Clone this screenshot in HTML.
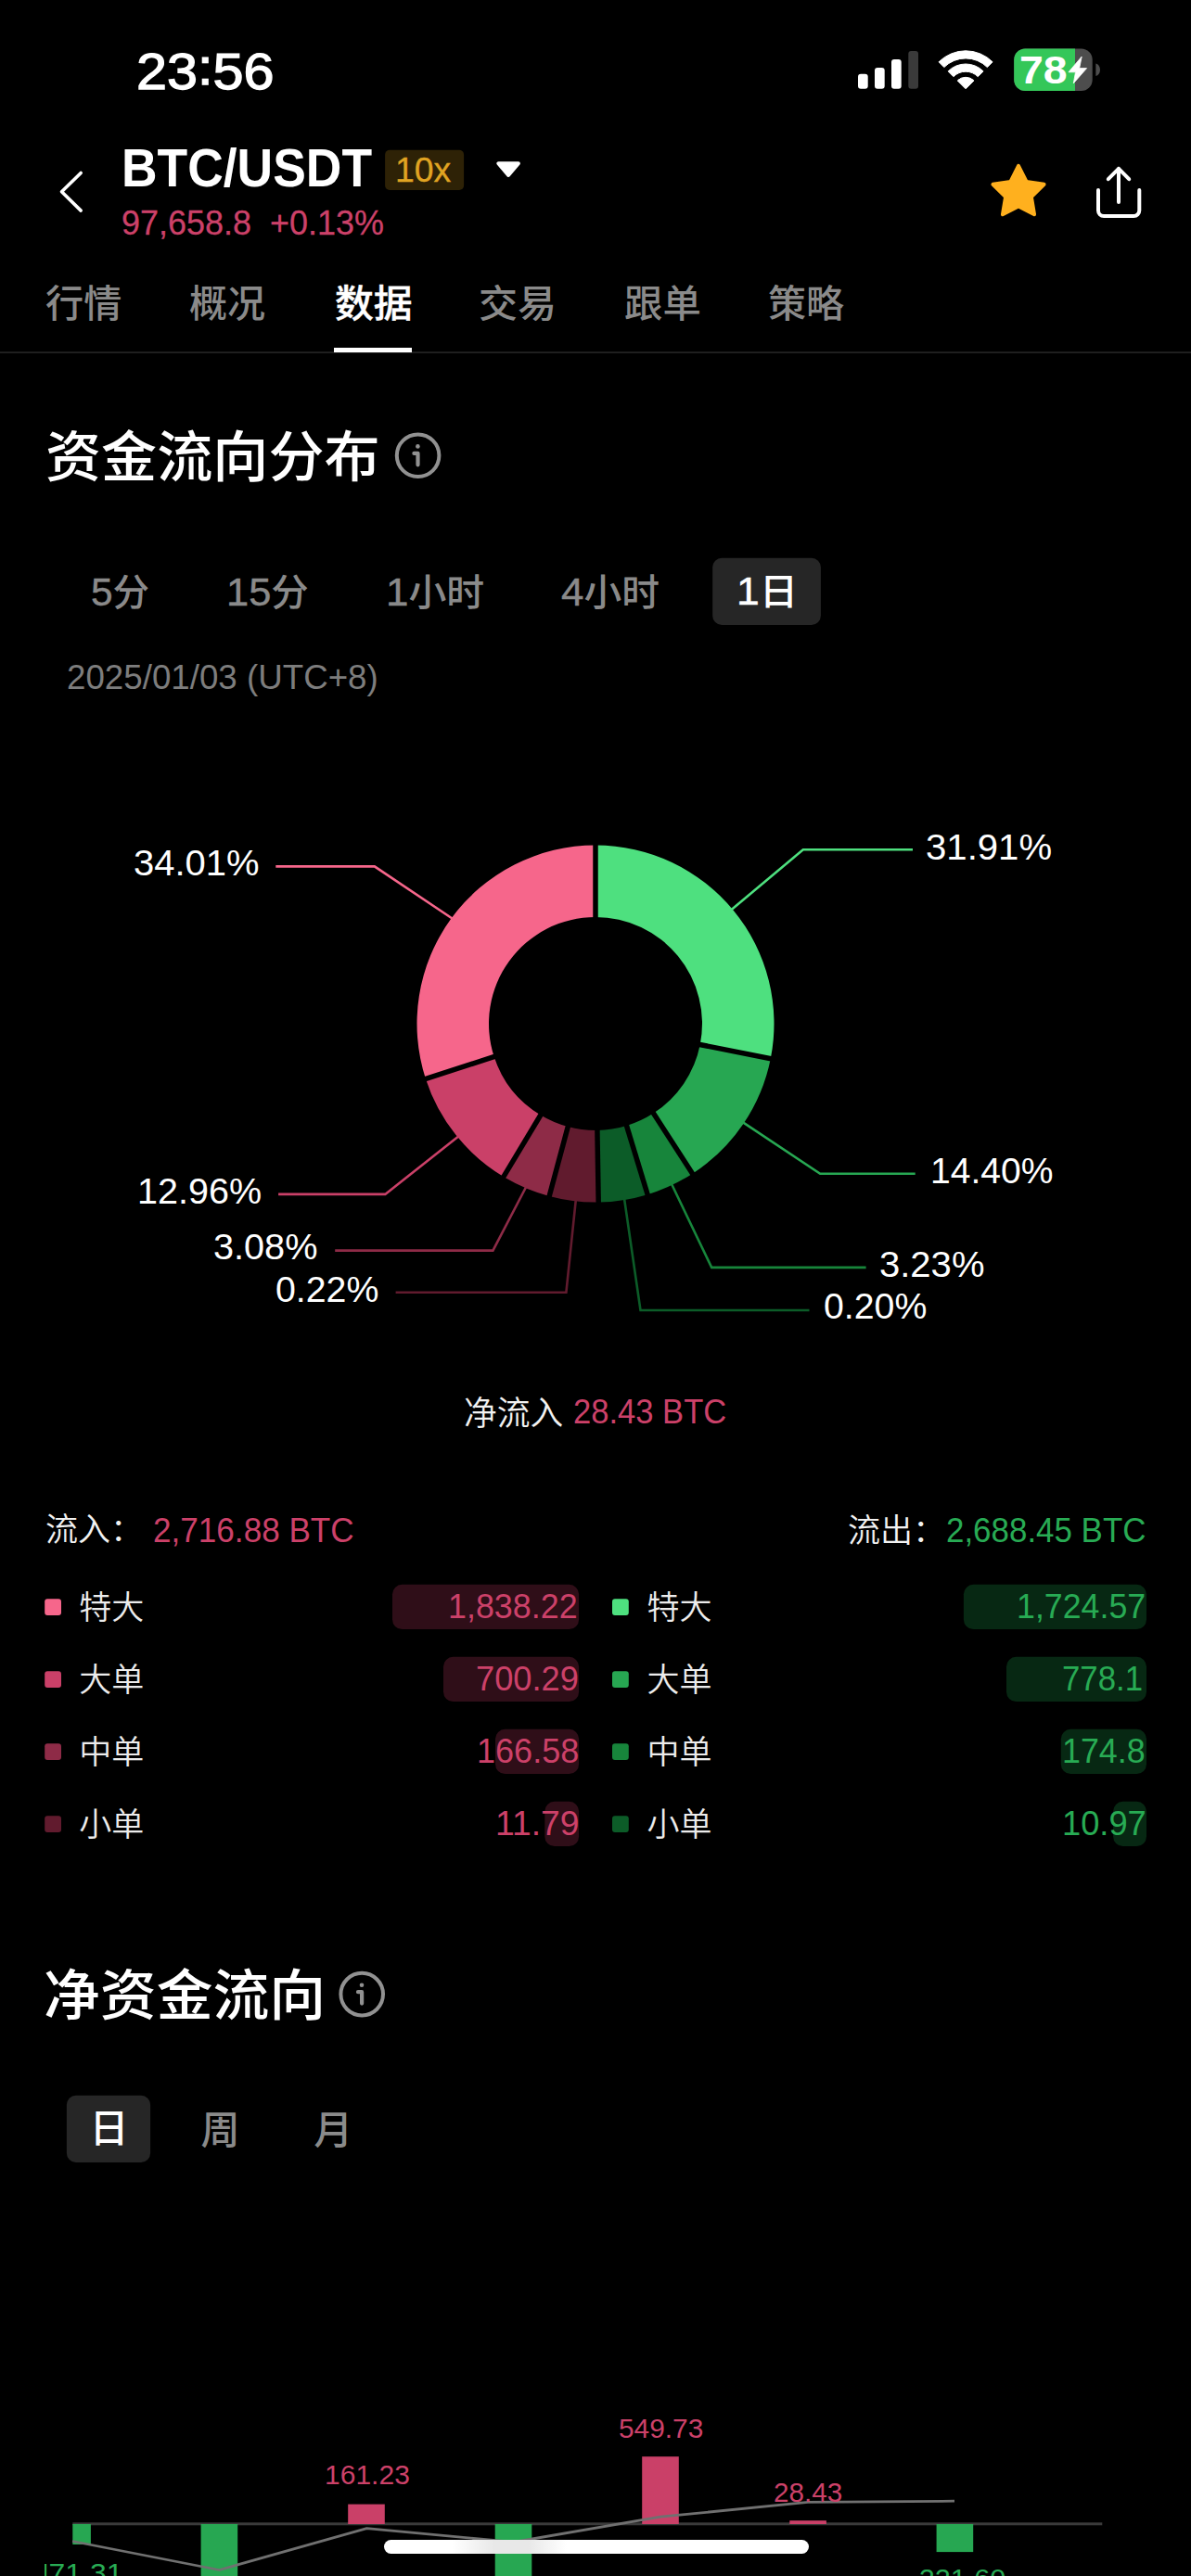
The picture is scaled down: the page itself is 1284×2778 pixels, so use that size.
<!DOCTYPE html>
<html lang="zh-CN"><head><meta charset="utf-8"><title>BTC/USDT</title>
<style>
html,body{margin:0;padding:0;background:#000;}
body{width:1284px;height:2778px;position:relative;overflow:hidden;font-family:"Liberation Sans","Noto Sans CJK SC",sans-serif;color:#fff;}
.t{position:absolute;white-space:nowrap;line-height:1;margin:0;padding:0;}
.b{position:absolute;}
.dg{font-size:43px;-webkit-text-stroke:0.45px currentColor;}
svg{position:absolute;left:0;top:0;overflow:visible;}
</style></head><body>
<svg width="1284" height="2778" viewBox="0 0 1284 2778">
<rect x="925" y="79.7" width="10.7" height="16.1" rx="3" fill="#fff"/>
<rect x="943" y="73" width="10.7" height="22.8" rx="3" fill="#fff"/>
<rect x="961" y="64" width="10.7" height="31.8" rx="3" fill="#fff"/>
<rect x="979.3" y="55" width="10.7" height="40.8" rx="3" fill="#3a3a3a"/>
<path d="M1012.11 66.81A41.0 41.0 0 0 1 1070.09 66.81L1064.36 72.54A32.9 32.9 0 0 0 1017.84 72.54Z" fill="#fff" stroke="#fff" stroke-width="1" stroke-linejoin="round"/>
<path d="M1022.15 76.85A26.8 26.8 0 0 1 1060.05 76.85L1054.25 82.65A18.6 18.6 0 0 0 1027.95 82.65Z" fill="#fff" stroke="#fff" stroke-width="1" stroke-linejoin="round"/>
<path d="M1041.1 95.8L1032.26 86.96A12.5 12.5 0 0 1 1049.94 86.96Z" fill="#fff" stroke="#fff" stroke-width="1" stroke-linejoin="round"/>
<clipPath id="bc"><rect x="1093.2" y="52.6" width="84.5" height="45.3" rx="12"/></clipPath>
<g clip-path="url(#bc)"><rect x="1093" y="52" width="85" height="47" fill="#4d4d4d"/><rect x="1093" y="52" width="66" height="47" fill="#34C759"/></g>
<path d="M1181.4 68.5 A5.2 6.8 0 0 1 1181.4 82 Z" fill="#4d4d4d"/>
<path d="M1166.2 61L1152 77.8H1159.5L1157.3 89.9L1171.6 73.6H1163.7Z" fill="#fff" stroke="#fff" stroke-width="0.8" stroke-linejoin="round"/>
<polyline points="87.2,186.5 66.5,206.8 87.2,227.1" fill="none" stroke="#fff" stroke-width="3.6" stroke-linecap="round" stroke-linejoin="round"/>
<rect x="415.1" y="161.8" width="85" height="43.2" rx="5" fill="#2e2206"/>
<path d="M537.3 176.3H558.9L548.1 188.9Z" fill="#fff" stroke="#fff" stroke-width="4" stroke-linejoin="round"/>
<path d="M1098.00 178.80L1106.58 195.99L1125.58 198.84L1111.89 212.31L1115.05 231.26L1098.00 222.40L1080.95 231.26L1084.11 212.31L1070.42 198.84L1089.42 195.99Z" fill="#FFB01E" stroke="#FFB01E" stroke-width="4" stroke-linejoin="round"/>
<path d="M1184 205V227a6 6 0 0 0 6 6H1222.3a6 6 0 0 0 6 -6V205" fill="none" stroke="#fff" stroke-width="4" stroke-linecap="round"/>
<path d="M1206 218V181.8M1194.8 193.2L1206 181.8L1217.2 193.2" fill="none" stroke="#fff" stroke-width="4" stroke-linecap="round" stroke-linejoin="round"/>
<rect x="0" y="379.3" width="1284" height="1.6" fill="#262626"/>
<rect x="360" y="375" width="84" height="5" fill="#fff"/>
<circle cx="450.6" cy="491.3" r="22.8" fill="none" stroke="#919191" stroke-width="4"/><circle cx="450.40000000000003" cy="481.40000000000003" r="2.3" fill="#919191"/><path d="M446.40000000000003 488.90000000000003H450.5V501.3" fill="none" stroke="#919191" stroke-width="4.2" stroke-linecap="round" stroke-linejoin="round"/>
<circle cx="390.2" cy="2150.6" r="22.8" fill="none" stroke="#919191" stroke-width="4"/><circle cx="390.0" cy="2140.7" r="2.3" fill="#919191"/><path d="M386.0 2148.2H390.09999999999997V2160.6" fill="none" stroke="#919191" stroke-width="4.2" stroke-linecap="round" stroke-linejoin="round"/>
<rect x="768.2" y="601.8" width="116.7" height="72.2" rx="10" fill="#262626"/>
<rect x="71.9" y="2259.8" width="90.2" height="72.2" rx="10" fill="#262626"/>
<polyline points="487.5,990.5 403.8,934.4 297.3,934.4" fill="none" stroke="#F6668B" stroke-width="2.6" stroke-linejoin="miter"/>
<polyline points="788.0,981.5 865.8,916.3 984.0,916.3" fill="none" stroke="#4EE07F" stroke-width="2.6" stroke-linejoin="miter"/>
<polyline points="495.5,1224.5 415.3,1287.9 300.1,1287.9" fill="none" stroke="#CA4068" stroke-width="2.6" stroke-linejoin="miter"/>
<polyline points="567.7,1279.0 531.4,1348.6 361.2,1348.6" fill="none" stroke="#8E2B47" stroke-width="2.6" stroke-linejoin="miter"/>
<polyline points="621.0,1292.0 610.4,1393.7 426.6,1393.7" fill="none" stroke="#611B2E" stroke-width="2.6" stroke-linejoin="miter"/>
<polyline points="799.5,1209.3 884.2,1265.8 986.7,1265.8" fill="none" stroke="#27A752" stroke-width="2.6" stroke-linejoin="miter"/>
<polyline points="723.5,1275.8 767.2,1366.9 933.6,1366.9" fill="none" stroke="#17853B" stroke-width="2.6" stroke-linejoin="miter"/>
<polyline points="672.8,1291.0 690.5,1413.0 872.5,1413.0" fill="none" stroke="#0C5C28" stroke-width="2.6" stroke-linejoin="miter"/>
<path d="M642.00 911.50A192.5 192.5 0 0 1 830.77 1141.72L754.77 1126.53A115.0 115.0 0 0 0 642.00 989.00Z" fill="#4EE07F"/>
<path d="M830.77 1141.72A192.5 192.5 0 0 1 746.56 1265.63L704.47 1200.56A115.0 115.0 0 0 0 754.77 1126.53Z" fill="#27A752"/>
<path d="M746.56 1265.63A192.5 192.5 0 0 1 698.12 1288.14L675.53 1214.00A115.0 115.0 0 0 0 704.47 1200.56Z" fill="#17853B"/>
<path d="M698.12 1288.14A192.5 192.5 0 0 1 645.19 1296.47L643.91 1218.98A115.0 115.0 0 0 0 675.53 1214.00Z" fill="#0C5C28"/>
<path d="M645.19 1296.47A192.5 192.5 0 0 1 592.18 1289.94L612.24 1215.08A115.0 115.0 0 0 0 643.91 1218.98Z" fill="#611B2E"/>
<path d="M592.18 1289.94A192.5 192.5 0 0 1 542.86 1269.00L582.77 1202.57A115.0 115.0 0 0 0 612.24 1215.08Z" fill="#8E2B47"/>
<path d="M542.86 1269.00A192.5 192.5 0 0 1 458.92 1163.49L532.63 1139.54A115.0 115.0 0 0 0 582.77 1202.57Z" fill="#CA4068"/>
<path d="M458.92 1163.49A192.5 192.5 0 0 1 642.00 911.50L642.00 989.00A115.0 115.0 0 0 0 532.63 1139.54Z" fill="#F6668B"/>
<line x1="642.00" y1="992.00" x2="642.00" y2="908.50" stroke="#000" stroke-width="5.5"/>
<line x1="751.83" y1="1125.95" x2="833.71" y2="1142.31" stroke="#000" stroke-width="5.5"/>
<line x1="702.84" y1="1198.04" x2="748.19" y2="1268.15" stroke="#000" stroke-width="5.5"/>
<line x1="674.65" y1="1211.13" x2="699.00" y2="1291.01" stroke="#000" stroke-width="5.5"/>
<line x1="643.86" y1="1215.98" x2="645.24" y2="1299.47" stroke="#000" stroke-width="5.5"/>
<line x1="613.01" y1="1212.18" x2="591.40" y2="1292.84" stroke="#000" stroke-width="5.5"/>
<line x1="584.32" y1="1200.00" x2="541.31" y2="1271.58" stroke="#000" stroke-width="5.5"/>
<line x1="535.48" y1="1138.61" x2="456.07" y2="1164.41" stroke="#000" stroke-width="5.5"/>
<rect x="48.2" y="1724.2" width="17.8" height="17.8" rx="3" fill="#F6668B"/>
<rect x="660" y="1724.2" width="17.8" height="17.8" rx="3" fill="#4EE07F"/>
<rect x="423" y="1708.8" width="201.1" height="48.2" rx="10.5" fill="#2f0e18"/>
<rect x="1038.9" y="1708.8" width="197.1" height="48.2" rx="10.5" fill="#072813"/>
<rect x="48.2" y="1802.2" width="17.8" height="17.8" rx="3" fill="#CA4068"/>
<rect x="660" y="1802.2" width="17.8" height="17.8" rx="3" fill="#27A752"/>
<rect x="478" y="1786.8" width="146.1" height="48.2" rx="10.5" fill="#2f0e18"/>
<rect x="1085" y="1786.8" width="151.0" height="48.2" rx="10.5" fill="#072813"/>
<rect x="48.2" y="1880.2" width="17.8" height="17.8" rx="3" fill="#8E2B47"/>
<rect x="660" y="1880.2" width="17.8" height="17.8" rx="3" fill="#17853B"/>
<rect x="534" y="1864.8" width="90.1" height="48.2" rx="10.5" fill="#2f0e18"/>
<rect x="1143.8" y="1864.8" width="92.2" height="48.2" rx="10.5" fill="#072813"/>
<rect x="48.2" y="1958.2" width="17.8" height="17.8" rx="3" fill="#611B2E"/>
<rect x="660" y="1958.2" width="17.8" height="17.8" rx="3" fill="#0C5C28"/>
<rect x="587.3" y="1942.8" width="36.8" height="48.2" rx="10.5" fill="#2f0e18"/>
<rect x="1200.1" y="1942.8" width="35.9" height="48.2" rx="10.5" fill="#072813"/>
<rect x="78.3" y="2720.3" width="1110" height="3" fill="#3a3a3a"/>
<rect x="78.3" y="2722" width="19.6" height="22" fill="#27A752"/>
<rect x="216.6" y="2722" width="39.6" height="68.0" fill="#27A752"/>
<rect x="375.2" y="2700.6" width="39.6" height="21.4" fill="#CA4068"/>
<rect x="533.7" y="2722" width="39.6" height="68.0" fill="#27A752"/>
<rect x="692.2" y="2649.2" width="39.6" height="72.8" fill="#CA4068"/>
<rect x="851.3" y="2718.2" width="39.6" height="3.8" fill="#CA4068"/>
<rect x="1009.6" y="2722" width="39.6" height="30.1" fill="#27A752"/>
<polyline points="78.1,2740.5 236.4,2771.5 395.4,2726.7 553.6,2741.5 712,2714.2 871,2698.4 1029,2697.2" fill="none" stroke="#707070" stroke-width="2.8" stroke-linejoin="round"/>
</svg>
<div class="t" id="time" style="left:146.89px;top:49.75px;font-size:55.00px;font-weight:400;color:#ffffff;transform-origin:0 0;-webkit-text-stroke:1.25px #ffffff;transform:scaleX(1.0800);">23<span style="position:relative;top:-4.5px">:</span>56</div>
<div class="t" id="batt" style="left:1099.46px;top:54.74px;font-size:41.71px;font-weight:700;color:#ffffff;transform-origin:0 0;transform:scaleX(1.1141);">78</div>
<div class="t" id="pair" style="left:131.18px;top:154.03px;font-size:56.50px;font-weight:700;color:#ffffff;transform-origin:0 0;transform:scaleX(0.9454);">BTC/USDT</div>
<div class="t" id="lev" style="left:426.46px;top:164.76px;font-size:37.60px;font-weight:400;color:#E0A422;transform-origin:0 0;-webkit-text-stroke:0.3px #E0A422;transform:scaleX(0.9948);">10x</div>
<div class="t" id="price" style="left:131.47px;top:221.76px;font-size:37.60px;font-weight:400;color:#CC4169;transform-origin:0 0;-webkit-text-stroke:0.3px #CC4169;transform:scaleX(0.9574);">97,658.8&nbsp;&nbsp;+0.13%</div>
<div class="t" id="tab1" style="left:48.95px;top:308.37px;font-size:40.85px;font-weight:500;color:#8a8a8a;transform-origin:0 0;transform:scaleX(1.0084);">行情</div>
<div class="t" id="tab2" style="left:203.96px;top:308.37px;font-size:40.85px;font-weight:500;color:#8a8a8a;transform-origin:0 0;transform:scaleX(1.0058);">概况</div>
<div class="t" id="tab3" style="left:360.56px;top:307.97px;font-size:40.85px;font-weight:500;color:#ffffff;transform-origin:0 0;-webkit-text-stroke:0.4px #ffffff;transform:scaleX(1.0253);">数据</div>
<div class="t" id="tab4" style="left:516.44px;top:308.37px;font-size:40.85px;font-weight:500;color:#8a8a8a;transform-origin:0 0;transform:scaleX(1.0296);">交易</div>
<div class="t" id="tab5" style="left:673.48px;top:308.37px;font-size:40.85px;font-weight:500;color:#8a8a8a;transform-origin:0 0;transform:scaleX(1.0158);">跟单</div>
<div class="t" id="tab6" style="left:828.45px;top:308.37px;font-size:40.85px;font-weight:500;color:#8a8a8a;transform-origin:0 0;transform:scaleX(1.0067);">策略</div>
<div class="t" id="title1" style="left:48.56px;top:464.29px;font-size:59.40px;font-weight:500;color:#ffffff;transform-origin:0 0;transform:scaleX(1.0120);">资金流向分布</div>
<div class="t" id="tt1" style="left:98.02px;top:616.85px;font-size:40.00px;font-weight:500;color:#8a8a8a;transform-origin:0 0;transform:scaleX(0.9860);"><span class="dg">5</span>分</div>
<div class="t" id="tt2" style="left:243.99px;top:616.85px;font-size:40.00px;font-weight:500;color:#8a8a8a;transform-origin:0 0;transform:scaleX(1.0101);"><span class="dg">15</span>分</div>
<div class="t" id="tt3" style="left:415.92px;top:617.35px;font-size:40.00px;font-weight:500;color:#8a8a8a;transform-origin:0 0;transform:scaleX(1.0225);"><span class="dg">1</span>小时</div>
<div class="t" id="tt4" style="left:604.98px;top:617.35px;font-size:40.00px;font-weight:500;color:#8a8a8a;transform-origin:0 0;transform:scaleX(1.0197);"><span class="dg">4</span>小时</div>
<div class="t" id="tt5" style="left:793.92px;top:615.85px;font-size:40.00px;font-weight:500;color:#ffffff;transform-origin:0 0;transform:scaleX(1.0354);"><span class="dg">1</span>日</div>
<div class="t" id="date" style="left:72.17px;top:713.40px;font-size:36.00px;font-weight:400;color:#7d7d7d;transform-origin:0 0;transform:scaleX(1.0200);">2025/01/03 (UTC+8)</div>
<div class="t" id="d1" style="left:144.10px;top:912.15px;font-size:38.00px;font-weight:400;color:#ffffff;transform-origin:0 0;transform:scaleX(1.0519);">34.01%</div>
<div class="t" id="d2" style="left:997.92px;top:894.80px;font-size:38.00px;font-weight:400;color:#ffffff;transform-origin:0 0;transform:scaleX(1.0560);">31.91%</div>
<div class="t" id="d3" style="left:147.50px;top:1266.30px;font-size:38.00px;font-weight:400;color:#ffffff;transform-origin:0 0;transform:scaleX(1.0403);">12.96%</div>
<div class="t" id="d4" style="left:230.31px;top:1325.75px;font-size:38.00px;font-weight:400;color:#ffffff;transform-origin:0 0;transform:scaleX(1.0435);">3.08%</div>
<div class="t" id="d5" style="left:297.14px;top:1371.50px;font-size:38.00px;font-weight:400;color:#ffffff;transform-origin:0 0;transform:scaleX(1.0338);">0.22%</div>
<div class="t" id="d6" style="left:1002.51px;top:1243.70px;font-size:38.00px;font-weight:400;color:#ffffff;transform-origin:0 0;transform:scaleX(1.0284);">14.40%</div>
<div class="t" id="d7" style="left:947.50px;top:1345.30px;font-size:38.00px;font-weight:400;color:#ffffff;transform-origin:0 0;transform:scaleX(1.0530);">3.23%</div>
<div class="t" id="d8" style="left:887.97px;top:1390.30px;font-size:38.00px;font-weight:400;color:#ffffff;transform-origin:0 0;transform:scaleX(1.0336);">0.20%</div>
<div class="t" id="net1" style="left:500.41px;top:1507.40px;font-size:36.00px;font-weight:350;color:#f2f2f2;transform-origin:0 0;transform:scaleX(0.9933);">净流入</div>
<div class="t" id="net2" style="left:618.19px;top:1504.24px;font-size:37.04px;font-weight:400;color:#CC4169;transform-origin:0 0;transform:scaleX(0.9333);">28.43 BTC</div>
<div class="t" id="in1" style="left:48.90px;top:1632.45px;font-size:35.00px;font-weight:350;color:#f2f2f2;transform-origin:0 0;">流入：</div>
<div class="t" id="in2" style="left:164.84px;top:1632.80px;font-size:36.00px;font-weight:400;color:#CC4169;transform-origin:0 0;transform:scaleX(0.9754);">2,716.88 BTC</div>
<div class="t" id="out1" style="left:914.10px;top:1632.95px;font-size:35.00px;font-weight:350;color:#f2f2f2;transform-origin:0 0;">流出：</div>
<div class="t" id="out2" style="left:1020.24px;top:1632.80px;font-size:36.00px;font-weight:400;color:#28AB54;transform-origin:0 0;transform:scaleX(0.9699);">2,688.45 BTC</div>
<div class="t" id="ln0" style="left:85.15px;top:1716.00px;font-size:35.00px;font-weight:350;color:#ececec;transform-origin:0 0;">特大</div>
<div class="t" id="rn0" style="left:697.50px;top:1716.00px;font-size:35.00px;font-weight:350;color:#ececec;transform-origin:0 0;">特大</div>
<div class="t" id="lv0" style="left:482.95px;top:1714.53px;font-size:36.50px;font-weight:400;color:#CC4169;transform-origin:0 0;transform:scaleX(0.9827);">1,838.22</div>
<div class="t" id="rv0" style="left:1095.76px;top:1714.53px;font-size:36.50px;font-weight:400;color:#28AB54;transform-origin:0 0;transform:scaleX(0.9798);">1,724.57</div>
<div class="t" id="ln1" style="left:85.15px;top:1794.00px;font-size:35.00px;font-weight:350;color:#ececec;transform-origin:0 0;">大单</div>
<div class="t" id="rn1" style="left:697.50px;top:1794.00px;font-size:35.00px;font-weight:350;color:#ececec;transform-origin:0 0;">大单</div>
<div class="t" id="lv1" style="left:512.59px;top:1792.53px;font-size:36.50px;font-weight:400;color:#CC4169;transform-origin:0 0;transform:scaleX(0.9931);">700.29</div>
<div class="t" id="rv1" style="left:1144.69px;top:1792.53px;font-size:36.50px;font-weight:400;color:#28AB54;transform-origin:0 0;transform:scaleX(0.9526);">778.1</div>
<div class="t" id="ln2" style="left:85.15px;top:1872.00px;font-size:35.00px;font-weight:350;color:#ececec;transform-origin:0 0;">中单</div>
<div class="t" id="rn2" style="left:697.50px;top:1872.00px;font-size:35.00px;font-weight:350;color:#ececec;transform-origin:0 0;">中单</div>
<div class="t" id="lv2" style="left:513.76px;top:1870.53px;font-size:36.50px;font-weight:400;color:#CC4169;transform-origin:0 0;transform:scaleX(0.9875);">166.58</div>
<div class="t" id="rv2" style="left:1145.05px;top:1870.53px;font-size:36.50px;font-weight:400;color:#28AB54;transform-origin:0 0;transform:scaleX(0.9821);">174.8</div>
<div class="t" id="ln3" style="left:85.15px;top:1950.00px;font-size:35.00px;font-weight:350;color:#ececec;transform-origin:0 0;">小单</div>
<div class="t" id="rn3" style="left:697.50px;top:1950.00px;font-size:35.00px;font-weight:350;color:#ececec;transform-origin:0 0;">小单</div>
<div class="t" id="lv3" style="left:533.61px;top:1948.53px;font-size:36.50px;font-weight:400;color:#CC4169;transform-origin:0 0;transform:scaleX(1.0222);">11.79</div>
<div class="t" id="rv3" style="left:1145.02px;top:1948.53px;font-size:36.50px;font-weight:400;color:#28AB54;transform-origin:0 0;transform:scaleX(0.9937);">10.97</div>
<div class="t" id="title2" style="left:46.74px;top:2122.89px;font-size:59.40px;font-weight:500;color:#ffffff;transform-origin:0 0;transform:scaleX(1.0242);">净资金流向</div>
<div class="t" id="p1" style="left:96.50px;top:2275.45px;font-size:42.00px;font-weight:500;color:#ffffff;transform-origin:0 0;">日</div>
<div class="t" id="p2" style="left:216.60px;top:2276.85px;font-size:42.00px;font-weight:500;color:#8a8a8a;transform-origin:0 0;">周</div>
<div class="t" id="p3" style="left:338.20px;top:2276.85px;font-size:42.00px;font-weight:500;color:#8a8a8a;transform-origin:0 0;">月</div>
<div class="t" id="c3" style="left:349.93px;top:2654.85px;font-size:29.00px;font-weight:400;color:#CC4169;transform-origin:0 0;transform:scaleX(1.0359);">161.23</div>
<div class="t" id="c5" style="left:666.78px;top:2604.85px;font-size:29.00px;font-weight:400;color:#CC4169;transform-origin:0 0;transform:scaleX(1.0296);">549.73</div>
<div class="t" id="c6" style="left:833.96px;top:2673.65px;font-size:29.00px;font-weight:400;color:#CC4169;transform-origin:0 0;transform:scaleX(1.0226);">28.43</div>
<div class="b" style="left:48.1px;top:2740px;width:1236px;height:38px;overflow:hidden;"><div class="t" id="c1" style="right:1151.4px;top:20.5px;font-size:29px;color:#28AB54;transform-origin:100% 0;transform:scaleX(1.1);"><span style="position:relative;left:4px">-1</span>71.31</div><div class="t" id="c7" style="right:199.6px;top:27.2px;font-size:29px;color:#28AB54;transform-origin:100% 0;transform:scaleX(1.055);">-221.60</div></div>
<div class="b" style="left:413.5px;top:2738.6px;width:458.7px;height:15.1px;border-radius:8px;background:linear-gradient(90deg,#fff 0%,#fff 16%,#e8e8e8 26%,#e8e8e8 34%,#fff 43%,#fff 100%);"></div>
</body></html>
